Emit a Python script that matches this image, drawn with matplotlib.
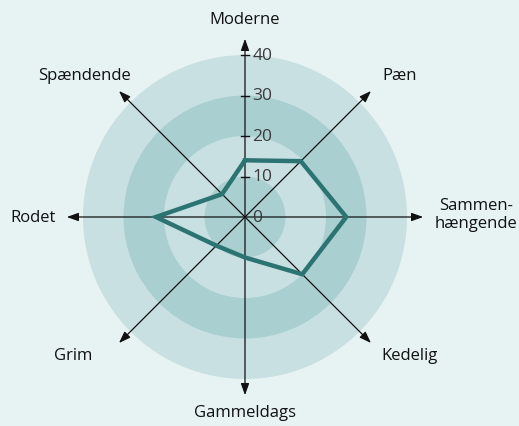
import numpy as np
import matplotlib
matplotlib.use("Agg")
import matplotlib.pyplot as plt
from matplotlib.patches import Circle

plt.rcParams['font.family'] = ['Open Sans', 'DejaVu Sans']

# axis labels, clockwise from top
labels = ["Moderne", "Pæn", "Sammen-\nhængende", "Kedelig",
          "Gammeldags", "Grim", "Rodet", "Spændende"]
values = [14, 19.5, 25, 20, 10, 10, 22, 8]
ticks = [0, 10, 20, 30, 40]
ring_edges = [10, 20, 30, 40]

bg = "#e6f3f2"
ring_dark = "#a9cfd0"
ring_light = "#c9e0e3"
line_col = "#2b7472"

fig = plt.figure(figsize=(5.19, 4.27), dpi=100)
fig.patch.set_facecolor(bg)
ax = fig.add_axes([0, 0, 1, 1])
ax.set_facecolor(bg)
s = 4.05  # px per unit
ax.set_xlim(-245 / s, (519 - 245) / s)
ax.set_ylim(-(427 - 218) / s, 218 / s)
ax.set_aspect('equal')
ax.axis('off')

# rings
for r, c in zip(ring_edges[::-1], [ring_light, ring_dark, ring_light, ring_dark]):
    ax.add_patch(Circle((0, 0), r, color=c, zorder=1, lw=0))

# angles: clockwise from top
angles = np.pi / 2 - np.arange(len(labels)) * 2 * np.pi / len(labels)
arrow_r = 44
for a in angles:
    ax.annotate("", xy=(arrow_r * np.cos(a), arrow_r * np.sin(a)), xytext=(0, 0),
                arrowprops=dict(arrowstyle="-|>,head_length=0.7,head_width=0.25",
                                color="#111111", lw=0.9, shrinkA=0, shrinkB=0),
                zorder=3)

# ticks on vertical axis
for t in ticks[1:]:
    ax.plot([-1.0, 1.0], [t, t], color="#111111", lw=1.0, zorder=3)
for t in ticks:
    ax.text(1.8, t, str(t), ha='left', va='center', fontsize=12.5,
            color="#3a3a3a", zorder=4)

# data polygon
xs = [v * np.cos(a) for v, a in zip(values, angles)]
ys = [v * np.sin(a) for v, a in zip(values, angles)]
ax.plot(xs + xs[:1], ys + ys[:1], color=line_col, lw=3.2, zorder=5,
        solid_joinstyle='miter')

# category labels (positions in px relative to center)
label_px = [(0, 198), (155, 142), (231, 3), (165, -138),
            (0, -195), (-172, -138), (-212, 0), (-160, 142)]
for lab, (px, py) in zip(labels, label_px):
    ax.text(px / s, py / s, lab, ha='center', va='center', fontsize=12,
            color="#111111", linespacing=1.1, zorder=4)

fig.savefig("out.png", dpi=100, facecolor=bg)
